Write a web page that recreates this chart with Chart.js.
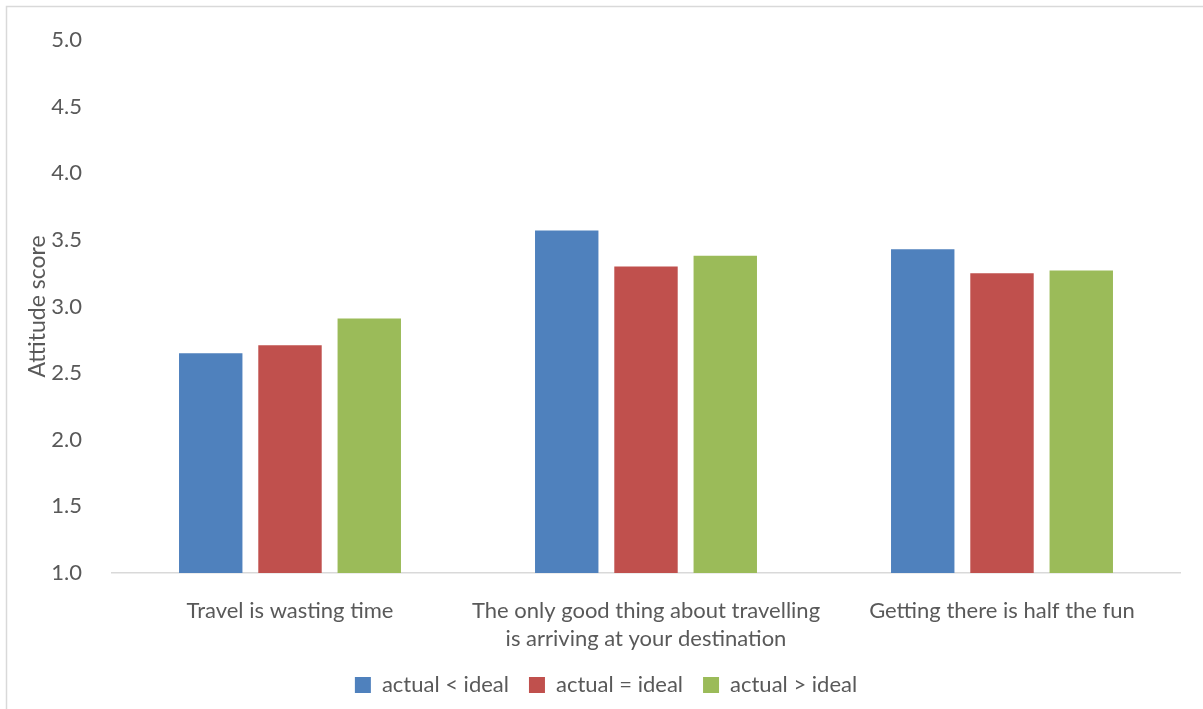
<!DOCTYPE html>
<html>
<head>
<meta charset="utf-8">
<script src="https://cdn.jsdelivr.net/npm/chart.js@4"></script>
<style>
  html, body { margin: 0; padding: 0; background: #fff; }
  #wrap { position: relative; width: 1203px; height: 709px; }
</style>
</head>
<body>
<div id="wrap"><canvas id="chart" width="1203" height="709"></canvas></div>
<script>
const categories = [
    "Travel is wasting time",
    ["The only good thing about travelling", "is arriving at your destination"],
    "Getting there is half the fun",
];
const seriesNames = ["actual < ideal", "actual = ideal", "actual > ideal"];
const actualLess = [2.65, 3.57, 3.43];
const actualEqual = [2.71, 3.30, 3.25];
const actualMore = [2.91, 3.38, 3.27];
const seriesColors = ["#4F81BD", "#C0504D", "#9BBB59"];

const textColor = "#595959";

// cadre gris en haut et a gauche
const framePlugin = {
    id: "frame",
    beforeDraw(chart) {
        const ctx = chart.ctx;
        ctx.save();
        ctx.fillStyle = "#fff";
        ctx.fillRect(0, 0, chart.width, chart.height);
        ctx.strokeStyle = "#d9d9d9";
        ctx.lineWidth = 1.5;
        ctx.beginPath();
        ctx.moveTo(6.5, chart.height);
        ctx.lineTo(6.5, 6.5);
        ctx.lineTo(chart.width, 6.5);
        ctx.stroke();
        ctx.restore();
    },
};

// decale la legende un peu a droite, comme dans l'original
const legendShift = {
    id: "legendShift",
    afterLayout(chart) {
        chart.legend.left += 16;
        chart.legend.right += 16;
    },
};

function makeDataset(label, data, color) {
    return {
        label: label,
        data: data,
        backgroundColor: color,
        borderWidth: 0,
        categoryPercentage: 0.668,
        barPercentage: 0.8,
    };
}

const ctx = document.getElementById("chart").getContext("2d");
new Chart(ctx, {
    type: "bar",
    data: {
        labels: categories,
        datasets: [
            makeDataset(seriesNames[0], actualLess, seriesColors[0]),
            makeDataset(seriesNames[1], actualEqual, seriesColors[1]),
            makeDataset(seriesNames[2], actualMore, seriesColors[2]),
        ],
    },
    plugins: [framePlugin, legendShift],
    options: {
        responsive: false,
        animation: false,
        layout: {
            padding: { left: 0, right: 23, top: 40, bottom: 3 },
        },
        plugins: {
            legend: {
                position: "bottom",
                labels: {
                    color: textColor,
                    font: { family: "Lato", size: 22 },
                    boxWidth: 16,
                    boxHeight: 16,
                    padding: 20,
                },
            },
            tooltip: { enabled: false },
        },
        scales: {
            x: {
                grid: { display: false },
                border: { display: true, color: "#d9d9d9", width: 1.5 },
                ticks: {
                    color: textColor,
                    font: { family: "Lato", size: 22, lineHeight: 1.27 },
                    padding: 16,
                    maxRotation: 0,
                    autoSkip: false,
                },
                afterFit(scale) {
                    scale.height = 81;
                },
            },
            y: {
                min: 1,
                max: 5,
                grid: { display: false },
                border: { display: false },
                ticks: {
                    stepSize: 0.5,
                    color: textColor,
                    font: { family: "Lato", size: 22 },
                    padding: 22,
                    callback: (v) => Number(v).toFixed(1),
                },
                title: {
                    display: true,
                    text: "Attitude score",
                    color: textColor,
                    font: { family: "Lato", size: 23 },
                    padding: { top: 24, bottom: 0 },
                },
                afterFit(scale) {
                    scale.width = 112;
                },
            },
        },
    },
});
</script>
</body>
</html>
